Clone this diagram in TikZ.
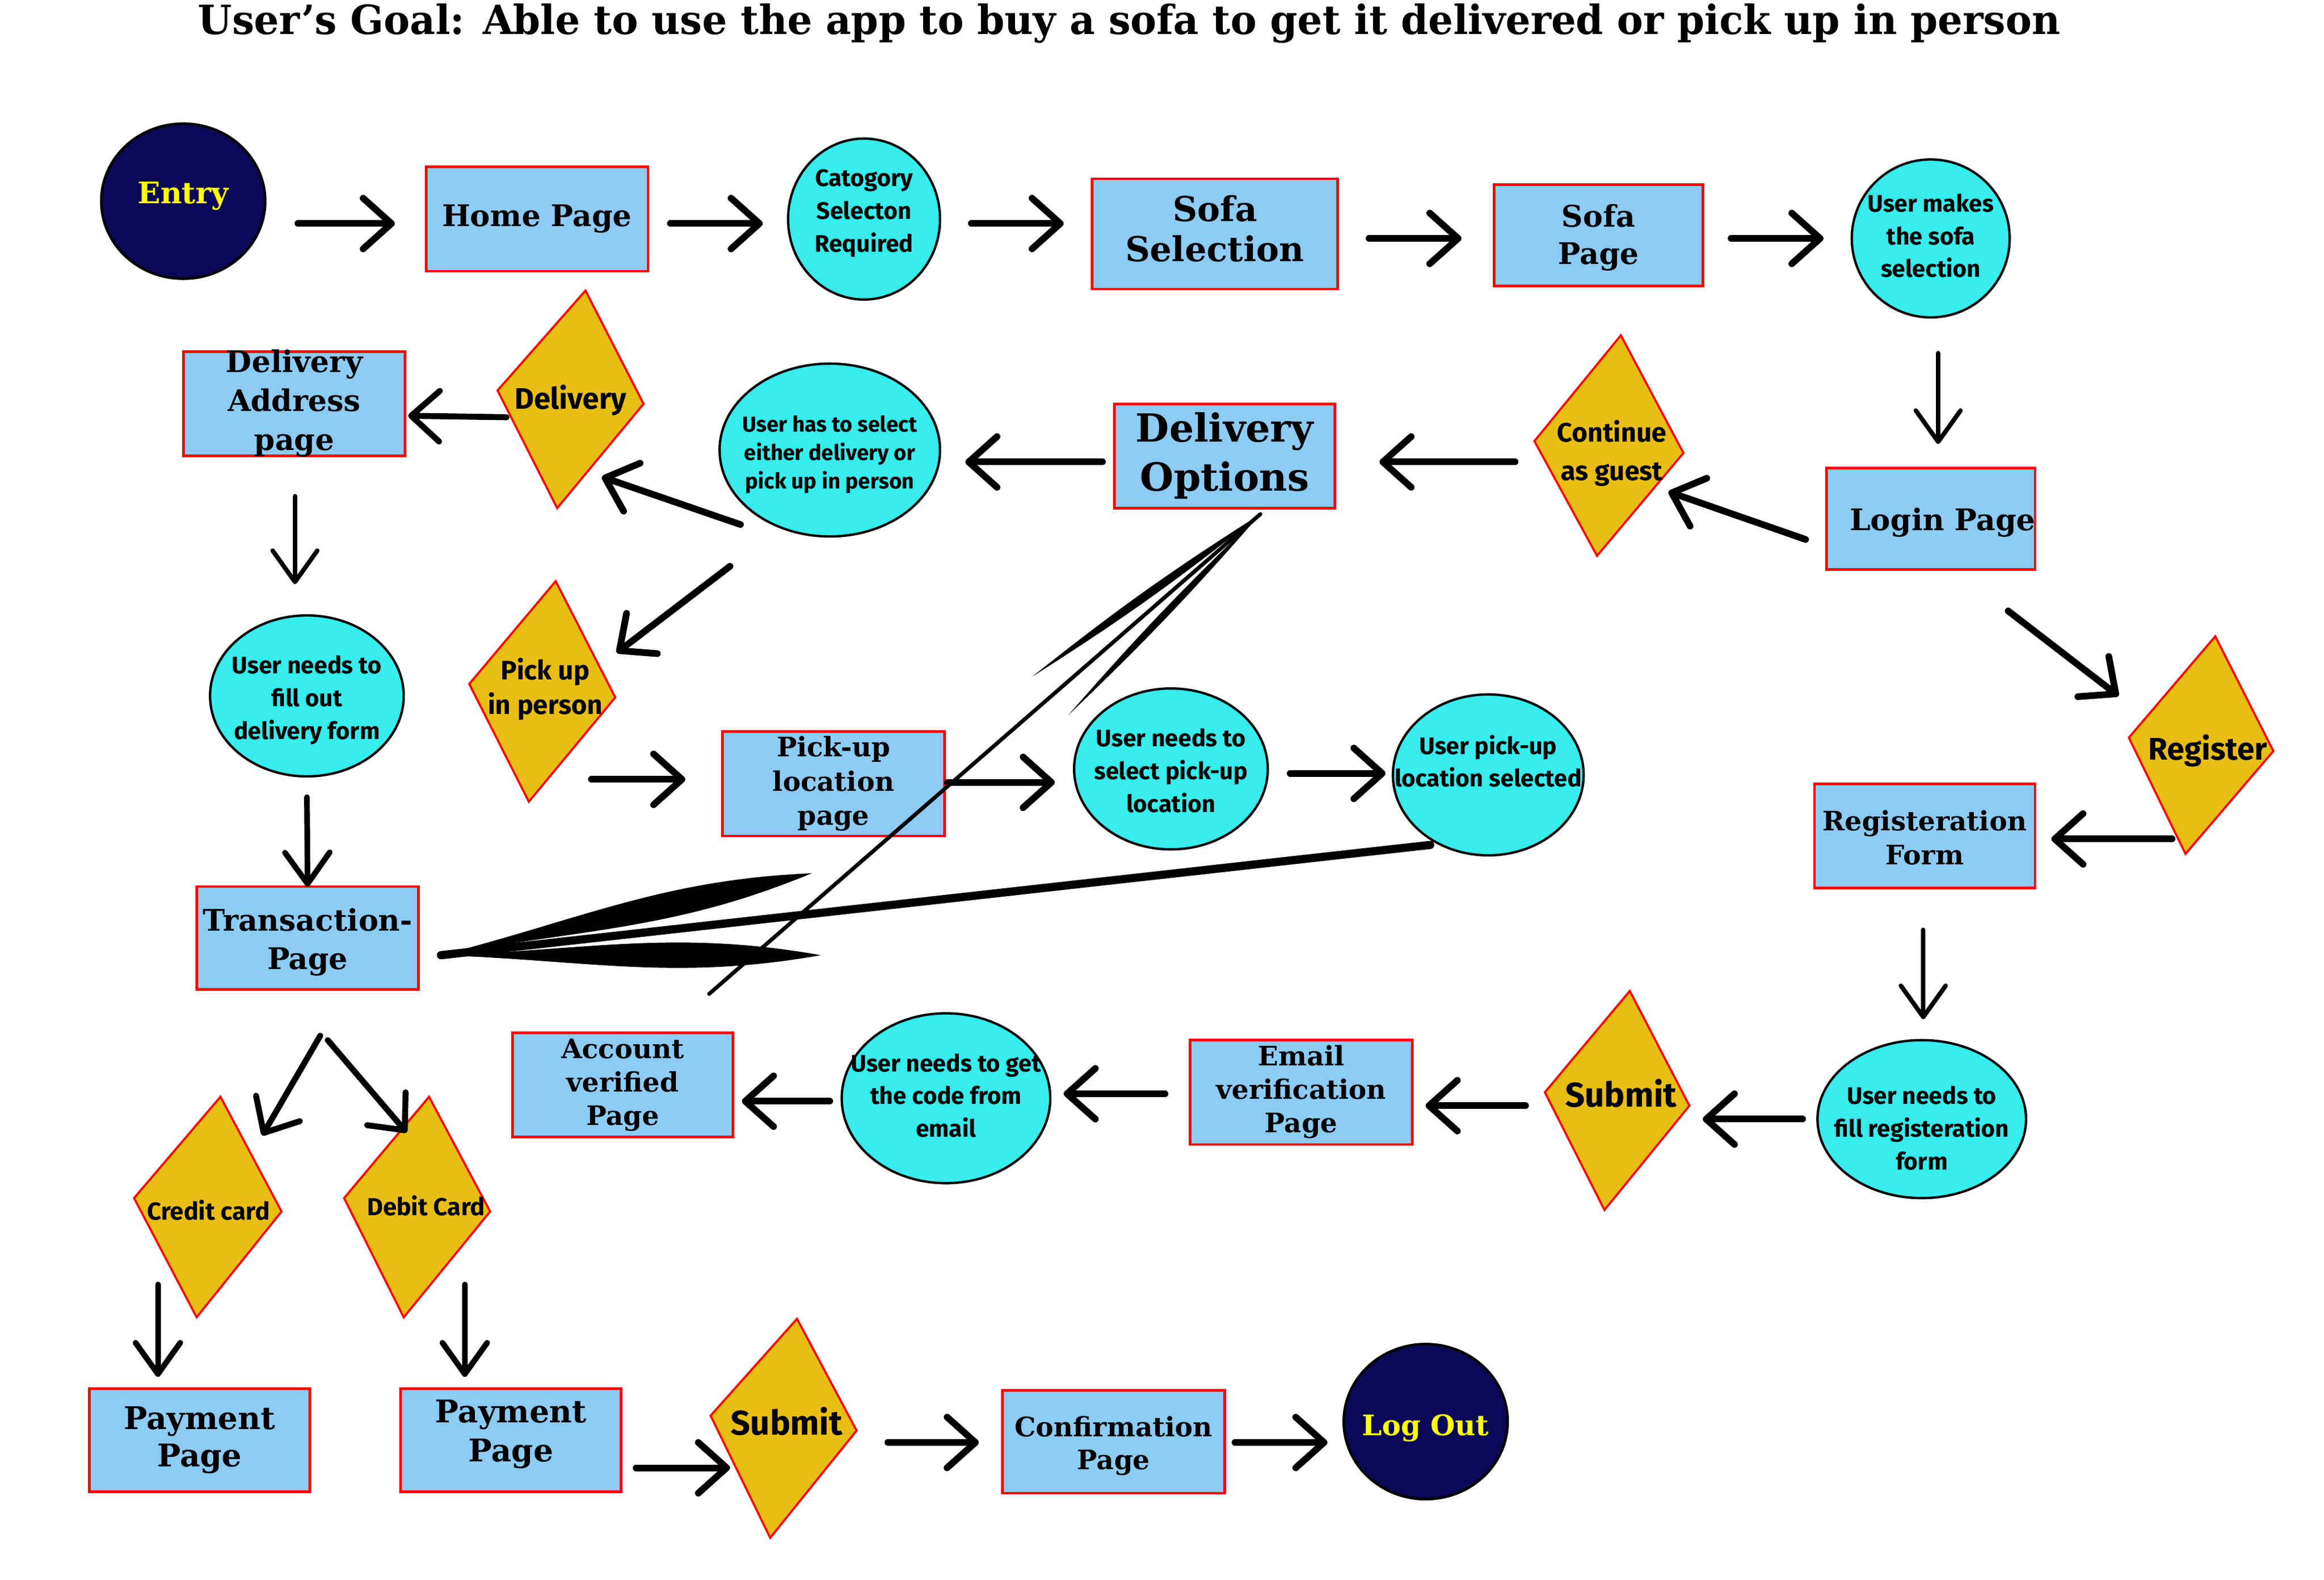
\documentclass[tikz,border=0pt]{standalone}
\usepackage{fontspec}
\usepackage{graphicx}
\setmainfont{DejaVu Serif}
\newfontfamily\cf{Fira Sans}
\usetikzlibrary{shapes.geometric,arrows.meta,calc}
\definecolor{boxblue}{RGB}{140,203,244}
\definecolor{cyanfill}{RGB}{54,236,236}
\definecolor{goldfill}{RGB}{232,190,18}
\definecolor{navyfill}{RGB}{11,9,87}
\definecolor{ttlyellow}{RGB}{255,255,0}
\newcommand\zt[2][0pt]{\makebox[0pt]{\smash{\raisebox{\dimexpr-0.25em+#1\relax}{\begin{tabular}{@{}c@{}}#2\end{tabular}}}}}
\newcommand\fsz[2]{\fontsize{#1}{#2}\selectfont}
\tikzset{
 box/.style={rectangle, draw=red, line width=1.8pt, fill=boxblue, inner sep=0pt, outer sep=0pt},
 ell/.style={ellipse, draw=black, line width=1.6pt, fill=cyanfill, inner sep=0pt, outer sep=0pt},
 navyell/.style={ellipse, draw=black, line width=1.8pt, fill=navyfill, inner sep=0pt, outer sep=0pt, text=ttlyellow},
 dia/.style={draw=red, line width=1.4pt, fill=goldfill, line join=miter},
 dtext/.style={inner sep=0pt, outer sep=0pt},
 arr/.style={line width=4.5pt, line cap=round, -{Straight Barb[length=19pt,width=34pt,round]}},
 arrthin/.style={line width=3pt, line cap=round, -{Straight Barb[length=21pt,width=30pt,round]}},
 scrib/.style={fill=black},
}
\begin{document}
\begin{tikzpicture}[x=1pt,y=-1pt]
\fill[white] (0,0) rectangle (1560,1060.3);
\useasboundingbox (0,0) rectangle (1560,1060.3);

% title
\node[anchor=base, inner sep=0pt, font=\bfseries] (title) at (758,23) {\resizebox{1250pt}{20.5pt}{User’s Goal: Able to use the app to buy a sofa to get it delivered or pick up in person}};

% diamonds (shapes)
\draw[dia] (393,195) -- (432,271) -- (374,341) -- (334,262) -- cycle;
\draw[dia] (373,390) -- (413,468) -- (355,538) -- (315,459) -- cycle;
\draw[dia] (1088,225) -- (1130,304) -- (1072,373) -- (1030,296) -- cycle;
\draw[dia] (1487,427) -- (1526,504) -- (1467,573) -- (1429,495) -- cycle;
\draw[dia] (1094,665) -- (1134,742) -- (1077,812) -- (1037,733) -- cycle;
\draw[dia] (148,736) -- (189,813) -- (132,884) -- (90,804) -- cycle;
\draw[dia] (288,736) -- (329,813) -- (271,884) -- (231,804) -- cycle;
\draw[dia] (535,885) -- (575,960) -- (517,1032) -- (477,950) -- cycle;

% diamond texts
\node[dtext, font=\cf\bfseries\fsz{20}{24}] (deliv) at (383,270) {\zt{Delivery}};
\node[dtext, font=\cf\bfseries\fsz{18}{23}] (pickup) at (366,463) {\zt{Pick up\\in person}};
\node[dtext, font=\cf\bfseries\fsz{18}{26}] (cont) at (1082,304) {\zt{Continue\\as guest}};
\node[dtext, font=\cf\bfseries\fsz{21}{25}] (reg) at (1482,505) {\zt{Register}};
\node[dtext, font=\cf\bfseries\fsz{23}{27}] (submit) at (1088,738) {\zt{Submit}};
\node[dtext, font=\cf\bfseries\fsz{16.5}{20}] (credit) at (140,815) {\zt{Credit card}};
\node[dtext, font=\cf\bfseries\fsz{16.5}{20}] (debit) at (286,812) {\zt{Debit Card}};
\node[dtext, font=\cf\bfseries\fsz{23}{27}] (submit2) at (528,958) {\zt{Submit}};

% navy ellipses
\node[navyell, minimum width=110pt, minimum height=104pt, font=\bfseries\fsz{20}{24}] (entry) at (123,135) {\zt[3pt]{Entry}};
\node[navyell, minimum width=110pt, minimum height=104pt, font=\bfseries\fsz{19}{24}] (logout) at (957,954) {\zt[-4pt]{Log Out}};

% boxes
\node[box, minimum width=149pt, minimum height=70pt, font=\bfseries\fsz{20}{26}] (home) at (360.5,147) {\zt{Home Page}};
\node[box, minimum width=165pt, minimum height=74pt, font=\bfseries\fsz{23}{27}] (sofasel) at (815.5,157) {\zt{Sofa\\Selection}};
\node[box, minimum width=140pt, minimum height=68pt, font=\bfseries\fsz{20}{25}] (sofapage) at (1073,158) {\zt[-2pt]{Sofa\\Page}};
\node[box, minimum width=140pt, minimum height=68pt, font=\bfseries\fsz{20}{25}] (login) at (1296,348) {\zt[-3pt]{\hspace*{16pt}Login Page}};
\node[box, minimum width=148pt, minimum height=70pt, font=\bfseries\fsz{26}{33}] (delopt) at (822,306) {\zt{Delivery\\Options}};
\node[box, minimum width=149pt, minimum height=70pt, font=\bfseries\fsz{20}{26}] (deladdr) at (197.5,271) {\zt{Delivery\\Address\\page}};
\node[box, minimum width=149pt, minimum height=69pt, font=\bfseries\fsz{20}{26}] (trans) at (206.5,629.5) {\zt[-3pt]{Transaction-\\Page}};
\node[box, minimum width=149pt, minimum height=70pt, font=\bfseries\fsz{18}{23}] (pickloc) at (559.5,526) {\zt{Pick-up\\location\\page}};
\node[box, minimum width=148pt, minimum height=70pt, font=\bfseries\fsz{18}{23}] (regform) at (1292,561) {\zt[-3pt]{Registeration\\Form}};
\node[box, minimum width=149pt, minimum height=70pt, font=\bfseries\fsz{18}{22.5}] (email) at (873.5,733) {\zt{Email\\verification\\Page}};
\node[box, minimum width=148pt, minimum height=70pt, font=\bfseries\fsz{18}{22.5}] (account) at (418,728) {\zt{Account\\verified\\Page}};
\node[box, minimum width=148pt, minimum height=69pt, font=\bfseries\fsz{21}{25}] (pay1) at (134,966.5) {\zt{Payment\\Page}};
\node[box, minimum width=148pt, minimum height=69pt, font=\bfseries\fsz{21}{26}] (pay2) at (343,966.5) {\zt[4pt]{Payment\\Page}};
\node[box, minimum width=149pt, minimum height=69pt, font=\bfseries\fsz{18}{22}] (confirm) at (747.5,967.5) {\zt[-3pt]{Confirmation\\Page}};

% cyan ellipses
\node[ell, minimum width=102pt, minimum height=108pt, font=\cf\bfseries\fsz{16}{22}] (cat) at (580,147) {\zt[4pt]{Catogory\\Selecton\\Required}};
\node[ell, minimum width=106pt, minimum height=106pt, font=\cf\bfseries\fsz{16}{22}] (usermakes) at (1296,160) {\zt{User makes\\the sofa\\selection}};
\node[ell, minimum width=148pt, minimum height=116pt, font=\cf\bfseries\fsz{14.5}{19}] (userhas) at (557,302) {\zt[-3pt]{User has to select\\either delivery or\\pick up in person}};
\node[ell, minimum width=130pt, minimum height=108pt, font=\cf\bfseries\fsz{16}{22}] (filldel) at (206,467) {\zt[-3pt]{User needs to\\fill out\\delivery form}};
\node[ell, minimum width=130pt, minimum height=108pt, font=\cf\bfseries\fsz{16}{22}] (selpick) at (786,516) {\zt[-3pt]{User needs to\\select pick-up\\location}};
\node[ell, minimum width=128pt, minimum height=108pt, font=\cf\bfseries\fsz{16}{22}] (picksel) at (999,520) {\zt[7pt]{User pick-up\\location selected}};
\node[ell, minimum width=140pt, minimum height=106pt, font=\cf\bfseries\fsz{16}{22}] (fillreg) at (1290,751) {\zt[-8pt]{User needs to\\fill registeration\\form}};
\node[ell, minimum width=140pt, minimum height=114pt, font=\cf\bfseries\fsz{16}{22}] (getcode) at (635,737) {\zt{User needs to get\\the code from\\email}};

% connectors
\draw[arr] ([shift={(22,15)}]entry.east) -- ([shift={(-21,3)}]home.west);
\draw[arr] ([shift={(15,3)}]home.east) -- ([shift={(-17,3)}]cat.west);
\draw[arr] ([shift={(21,3)}]cat.east) -- ([shift={(-19,-7)}]sofasel.west);
\draw[arr] ([shift={(21,3)}]sofasel.east) -- ([shift={(-22,2)}]sofapage.west);
\draw[arr] ([shift={(19,2)}]sofapage.east) -- ([shift={(-19,0)}]usermakes.west);
\draw[arrthin] ([shift={(5,24)}]usermakes.south) -- ([shift={(5,-16)}]login.north);
\draw[arr] ([shift={(-14,14)}]login.west) -- ([shift={(38,26)}]cont.center);
\draw[arr] ([shift={(-65,6)}]cont.center) -- ([shift={(30,4)}]delopt.east);
\draw[arr] ([shift={(-8,4)}]delopt.west) -- ([shift={(17,8)}]userhas.east);
\draw[arr] ([shift={(-60,-8)}]userhas.south) -- ([shift={(21,50)}]deliv.center);
\draw[arr, line width=4pt] ([shift={(-43,10)}]deliv.center) -- ([shift={(2,8)}]deladdr.east);
\draw[arrthin] ([shift={(0.5,27)}]deladdr.south) -- ([shift={(-8,-21)}]filldel.north);
\draw[arrthin, line width=3.8pt] ([shift={(0,14)}]filldel.south) -- (trans.north);
\draw[arr] ([shift={(-67,20)}]userhas.south) -- ([shift={(48,-25)}]pickup.center);
\draw[arr] ([shift={(31,60)}]pickup.center) -- ([shift={(-25,-3)}]pickloc.west);
\draw[arr] ([shift={(2,-1)}]pickloc.east) -- ([shift={(-13,9)}]selpick.west);
\draw[arr] ([shift={(15,3)}]selpick.east) -- ([shift={(-5,-1)}]picksel.west);
\draw[arr] ([shift={(52,28)}]login.south) -- ([shift={(-60,-38)}]reg.center);
\draw[arr] ([shift={(-24,58)}]reg.center) -- ([shift={(11,2)}]regform.east);
\draw[arrthin] ([shift={(-1,28)}]regform.south) -- ([shift={(1,-14)}]fillreg.north);
\draw[arr] ([shift={(-10,0)}]fillreg.west) -- ([shift={(55,13)}]submit.center);
\draw[arr] ([shift={(-64,4)}]submit.center) -- ([shift={(9,9)}]email.east);
\draw[arr] ([shift={(-17,1)}]email.west) -- ([shift={(9,-3)}]getcode.east);
\draw[arr] ([shift={(-8,2)}]getcode.west) -- ([shift={(6,11)}]account.east);
\draw[arr, line width=4pt] ([shift={(8.5,31)}]trans.south) -- ([shift={(36,-53)}]credit.center);
\draw[arr, line width=4pt] ([shift={(13.5,34)}]trans.south) -- ([shift={(-13,-52)}]debit.center);
\draw[arrthin, line width=3.8pt] ([shift={(-34,47)}]credit.center) -- ([shift={(-28,-8)}]pay1.north);
\draw[arrthin, line width=3.8pt] ([shift={(26,50)}]debit.center) -- ([shift={(-31,-8)}]pay2.north);
\draw[arr] ([shift={(10,18.5)}]pay2.east) -- ([shift={(-38,27)}]submit2.center);
\draw[arr] ([shift={(68,10)}]submit2.center) -- ([shift={(-16,0.5)}]confirm.west);
\draw[arr] ([shift={(7,0.5)}]confirm.east) -- ([shift={(-11,14)}]logout.west);

% scribbled strokes
\coordinate (sc1) at ([shift={(24,4)}]delopt.south);
\coordinate (s1e) at ([shift={(-129,113)}]delopt.south);
\coordinate (s2e) at ([shift={(-105,139)}]delopt.south);
\coordinate (s3e) at ([shift={(-346,326)}]delopt.south);
\coordinate (sc2) at ([shift={(15,11.5)}]trans.east);
\coordinate (s4e) at ([shift={(264,-43.5)}]trans.east);
\coordinate (s5e) at ([shift={(270,11.5)}]trans.east);
\coordinate (s6e) at ([shift={(-39,-7)}]picksel.south);
\fill[scrib] (sc1) to[bend left=3] (s1e) to[bend left=3] (sc1);
\fill[scrib] (sc1) to[bend left=2.5] (s2e) to[bend left=2.5] (sc1);
\draw[line width=2.6pt, line cap=round] (sc1) -- (s3e);
\fill[scrib] (sc2) to[out=2,in=170,relative] (s4e) to[out=10,in=178,relative] (sc2);
\fill[scrib] (sc2) to[out=2,in=170,relative] (s5e) to[out=10,in=178,relative] (sc2);
\draw[line width=5.5pt, line cap=round] (sc2) -- (s6e);
\end{tikzpicture}
\end{document}
